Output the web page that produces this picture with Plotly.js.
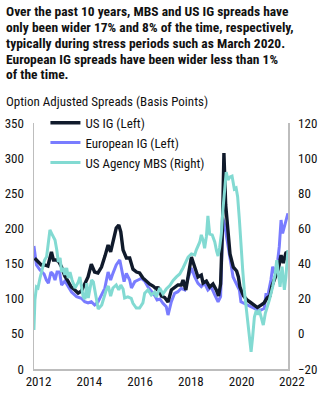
<!DOCTYPE html>
<html>
<head>
<meta charset="utf-8">
<script src="https://cdn.plot.ly/plotly-3.0.1.min.js"></script>
<style>
html,body{margin:0;padding:0;background:#fff;}
#chart{width:321px;height:393px;}
</style>
</head>
<body>
<div id="chart"></div>
<script>
// Decimal-year positions
const usIgDates = [2011.85,2011.98,2012.11,2012.24,2012.37,2012.51,2012.59,2012.71,2012.81,2012.91,2013.04,2013.16,2013.29,2013.43,2013.56,2013.69,2013.83,2013.95,2014.08,2014.21,2014.34,2014.48,2014.62,2014.74,2014.84,2014.93,2015.06,2015.16,2015.24,2015.33,2015.46,2015.59,2015.72,2015.86,2015.98,2016.11,2016.24,2016.38,2016.51,2016.64,2016.70,2016.84,2016.97,2017.10,2017.23,2017.36,2017.49,2017.62,2017.69,2017.80,2017.89,2018.02,2018.15,2018.28,2018.41,2018.48,2018.61,2018.74,2018.87,2019.00,2019.09,2019.17,2019.24,2019.30,2019.37,2019.46,2019.54,2019.67,2019.80,2019.87,2019.93,2020.07,2020.21,2020.35,2020.48,2020.62,2020.76,2020.88,2021.00,2021.11,2021.19,2021.31,2021.44,2021.55,2021.64,2021.74,2021.82];
const usIgValues = [157.5,152,148,148,146.5,166.5,155,155,152,145,132,125,116.7,112.4,108,111,121,131,149,138,136.6,145,161,176.4,166.5,180.7,200.6,204.9,195,169.3,158,158,142,138,136.6,129.5,125,120.7,118,113.8,116.7,103.9,101.7,95.3,112.4,116.7,119.5,119.5,126.6,112.4,131,159.3,145,131,133.7,122.3,125,116.7,121,112.4,103.9,121,197.8,307.3,233.3,187.8,163.6,145,139.4,131,116.7,103.9,98.2,94.6,91,87.5,91,93.9,101,103.9,118,129.5,142,162,150.8,165,166.5];

const euIgDates = [2011.82,2011.92,2012.06,2012.22,2012.31,2012.39,2012.49,2012.57,2012.65,2012.73,2012.83,2012.91,2013.04,2013.16,2013.30,2013.50,2013.69,2013.82,2013.95,2014.08,2014.21,2014.34,2014.47,2014.61,2014.74,2014.84,2014.93,2015.06,2015.20,2015.27,2015.37,2015.46,2015.59,2015.66,2015.79,2015.92,2016.05,2016.18,2016.31,2016.45,2016.59,2016.67,2016.78,2016.90,2017.03,2017.10,2017.23,2017.36,2017.49,2017.62,2017.76,2017.89,2018.02,2018.15,2018.28,2018.41,2018.54,2018.67,2018.80,2018.94,2019.07,2019.17,2019.26,2019.33,2019.46,2019.58,2019.66,2019.78,2019.91,2019.97,2020.10,2020.24,2020.37,2020.50,2020.63,2020.76,2020.89,2020.96,2021.02,2021.15,2021.22,2021.32,2021.42,2021.48,2021.55,2021.61,2021.72,2021.82];
const euIgValues = [175,148,140.8,135.2,126.6,122.3,138,135.2,126.6,138,138,119.5,125.2,118.1,109.5,102.9,100.6,95.7,93.9,95.7,91,95.3,105.3,114.8,138,126.6,136.1,148,155.1,143.7,124.2,136.1,126.6,115.2,124.2,126.6,129,125.2,116.7,110.3,103.9,98.2,99.6,93.5,88.6,76.8,95.7,107.7,110,114.8,112.4,129.5,143.7,130.9,121.9,117.1,121.9,112.4,116.7,105.3,95.7,102.9,214,205,173.6,143.7,130.9,121.9,112.4,95.7,93.5,91,88.6,86.4,83.9,83.9,86.4,107.7,102.9,126.6,145.5,136.1,155.1,174,212,193.1,207.3,221.5];

const mbsDates = [2011.82,2011.86,2011.92,2011.98,2012.06,2012.12,2012.24,2012.32,2012.39,2012.45,2012.53,2012.65,2012.72,2012.78,2012.85,2012.91,2012.98,2013.04,2013.11,2013.17,2013.24,2013.32,2013.44,2013.57,2013.63,2013.76,2013.83,2013.90,2013.96,2014.03,2014.09,2014.16,2014.22,2014.29,2014.35,2014.49,2014.56,2014.67,2014.75,2014.84,2014.93,2015.06,2015.16,2015.24,2015.33,2015.39,2015.52,2015.65,2015.72,2015.85,2015.98,2016.11,2016.18,2016.31,2016.44,2016.57,2016.64,2016.77,2016.90,2017.03,2017.17,2017.30,2017.43,2017.56,2017.69,2017.82,2017.89,2018.02,2018.15,2018.21,2018.35,2018.41,2018.48,2018.54,2018.61,2018.67,2018.74,2018.84,2018.94,2019.01,2019.07,2019.13,2019.20,2019.26,2019.33,2019.39,2019.46,2019.54,2019.62,2019.71,2019.78,2019.84,2019.91,2019.97,2020.04,2020.10,2020.17,2020.24,2020.30,2020.37,2020.43,2020.50,2020.56,2020.63,2020.69,2020.76,2020.85,2020.93,2021.02,2021.09,2021.22,2021.32,2021.38,2021.46,2021.51,2021.59,2021.68,2021.74,2021.82];
const mbsValues = [2.2,19.3,26.7,26.1,31.8,35.8,42,43.9,52.3,59.1,56.8,53.4,47.7,40.9,43.2,35.2,37.5,33.5,37.5,31.8,35.2,30.7,26.1,29.5,32.4,21.1,19.8,28.9,20.4,25,30.7,29.5,23.8,19.3,14.1,16.4,20.4,25,27.2,21.5,26.1,27.8,25,27.8,25.5,20.4,21.1,20.2,17.4,14.7,14.7,17.6,23.1,25,22.1,23.8,21,26.1,22.7,25.5,27.5,30.4,32.4,34.1,37.5,41.2,43.7,45.5,44.9,47.7,52.3,56.3,53.4,48.7,55.3,67.1,56.8,56.3,52.3,47.2,44.3,48.9,57.2,70.5,83.6,92.1,87.6,89.3,89.8,82.4,83,78.1,64.8,49.6,36.3,25,15.5,6,-2.4,-10.3,-1.8,9.6,12.6,11.7,13.6,9.8,5,11.7,15.5,19.3,26.8,34.5,42,30.7,26.8,38.2,25,32.5,47.7];

const xTickVals = [2012, 2014, 2016, 2018, 2020];
const xTickText = ['2012', '2014', '2016', '2018', '2020'];
const lastXTick = 2022;
const xRange = [2011.823, 2021.823];

const titleLines = [
  'Over the past 10 years, MBS and US IG spreads have',
  'only been wider 17% and 8% of the time, respectively,',
  'typically during stress periods such as March 2020.',
  'European IG spreads have been wider less than 1%',
  'of the time.'
];
const subtitle = 'Option Adjusted Spreads (Basis Points)';

const font = '"Liberation Sans Narrow", "Arial Narrow", "Roboto Condensed", "Liberation Sans", sans-serif';
const cBlack = '#101a2b', cBlue = '#797cff', cTeal = '#82dad2';

const traces = [
  {x: mbsDates, y: mbsValues, yaxis: 'y2', name: 'US Agency MBS (Right)', type: 'scatter', mode: 'lines',
   line: {color: cTeal, width: 3}, legendrank: 3},
  {x: euIgDates, y: euIgValues, name: 'European IG (Left)', type: 'scatter', mode: 'lines',
   line: {color: cBlue, width: 3}, legendrank: 2},
  {x: usIgDates, y: usIgValues, name: 'US IG (Left)', type: 'scatter', mode: 'lines',
   line: {color: cBlack, width: 3.4}, legendrank: 1}
];

const W = 321, H = 393, mL = 34, mR = 33, mT = 123, mB = 24;
const plotW = W - mL - mR, plotH = H - mT - mB;
const lineCentersPx = [10.5, 27, 43, 59, 74.5];

const annotations = titleLines.map((t, i) => ({
  text: '<b>' + t + '</b>', xref: 'paper', yref: 'paper',
  x: (4 - mL) / plotW, xanchor: 'left',
  y: 1 + (mT - lineCentersPx[i]) / plotH, yanchor: 'middle',
  showarrow: false, font: {family: font, size: 13.5, color: '#111'}
}));
annotations.push(
  {text: subtitle, xref: 'paper', yref: 'paper',
   x: (4 - mL) / plotW, xanchor: 'left', y: 1 + (mT - 101) / plotH, yanchor: 'middle', showarrow: false,
   font: {family: font, size: 13, color: '#111'}},
  {text: String(lastXTick), xref: 'paper', yref: 'paper',
   x: (lastXTick - xRange[0]) / (xRange[1] - xRange[0]), xanchor: 'center', y: 0, yanchor: 'top',
   yshift: -3, showarrow: false, font: {family: font, size: 13, color: '#111'}}
);

const layout = {
  width: W, height: H,
  margin: {l: mL, r: mR, t: mT, b: mB},
  paper_bgcolor: '#fff', plot_bgcolor: '#fff',
  font: {family: font, size: 13, color: '#111'},
  showlegend: true,
  legend: {x: 0.045, xanchor: 'left', y: 1.062, yanchor: 'top', bgcolor: 'rgba(0,0,0,0)',
           font: {family: font, size: 13, color: '#111'}, tracegroupgap: 0},
  xaxis: {range: xRange, tickvals: xTickVals, ticktext: xTickText, showgrid: false, zeroline: false,
          showline: true, linecolor: '#bdbdbd', linewidth: 1.5, ticks: '', fixedrange: true,
          tickfont: {family: font, size: 13, color: '#111'}},
  yaxis: {range: [0, 350], dtick: 50, showgrid: false, zeroline: false, showline: true,
          linecolor: '#bdbdbd', linewidth: 1.5, ticks: 'outside', ticklen: 6, tickcolor: 'rgba(0,0,0,0)',
          tickfont: {family: font, size: 13, color: '#111'}},
  yaxis2: {range: [-20, 120], dtick: 20, overlaying: 'y', side: 'right', showgrid: false, zeroline: false,
           showline: true, linecolor: '#bdbdbd', linewidth: 1.5, ticks: 'outside', ticklen: 6,
           tickcolor: 'rgba(0,0,0,0)', tickfont: {family: font, size: 13, color: '#111'}},
  annotations: annotations
};

Plotly.newPlot('chart', traces, layout, {displayModeBar: false, staticPlot: true});
</script>
</body>
</html>
